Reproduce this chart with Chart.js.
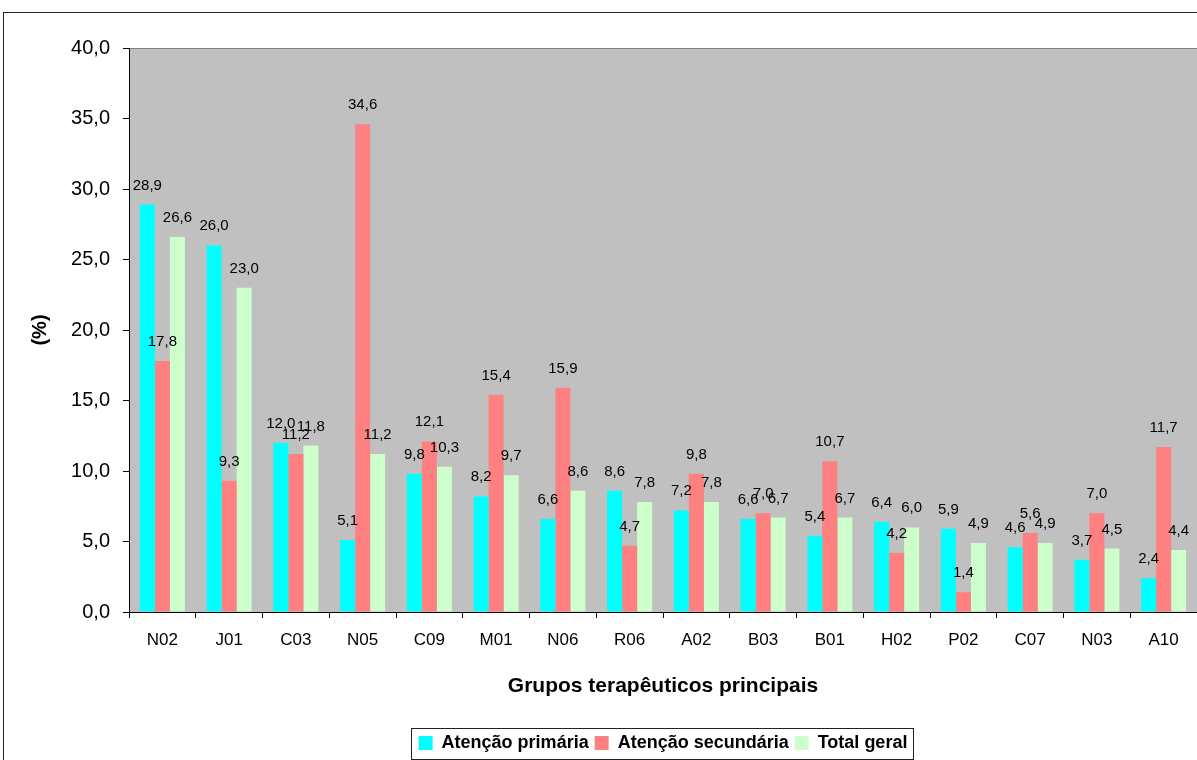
<!DOCTYPE html>
<html>
<head>
<meta charset="utf-8">
<script src="https://cdn.jsdelivr.net/npm/chart.js@4"></script>
<style>
  body { margin:0; background:#fff; }
  #wrap { position:relative; width:1197px; height:760px; overflow:hidden; }
  #frame { position:absolute; left:3px; top:12px; width:1210px; height:760px; border:1px solid #222; }
  canvas { position:absolute; left:0; top:0; }
</style>
</head>
<body>
<div id="wrap">
  <div id="frame"></div>
  <canvas id="chart" width="1197" height="760"></canvas>
</div>
<script>
const categories = ["N02","J01","C03","N05","C09","M01","N06","R06","A02","B03","B01","H02","P02","C07","N03","A10"];
const primaria   = [28.9, 26.0, 12.0, 5.1, 9.8, 8.2, 6.6, 8.6, 7.2, 6.6, 5.4, 6.4, 5.9, 4.6, 3.7, 2.4];
const secundaria = [17.8, 9.3, 11.2, 34.6, 12.1, 15.4, 15.9, 4.7, 9.8, 7.0, 10.7, 4.2, 1.4, 5.6, 7.0, 11.7];
const totalGeral = [26.6, 23.0, 11.8, 11.2, 10.3, 9.7, 8.6, 7.8, 7.8, 6.7, 6.7, 6.0, 4.9, 4.9, 4.5, 4.4];

const fmt = v => v.toFixed(1).replace(".", ",");
const FONT = "Arial, 'Liberation Sans', sans-serif";

/* ---------- plot background ---------- */
const plotBg = {
    id: "plotBg",
    beforeDraw(c) {
        const a = c.chartArea, ctx = c.ctx;
        ctx.save();
        ctx.fillStyle = "#c0c0c0";
        ctx.fillRect(a.left, a.top, a.right - a.left, a.bottom - a.top);
        ctx.strokeStyle = "#808080";
        ctx.lineWidth = 1;
        ctx.beginPath();
        ctx.moveTo(a.left, a.top + 0.5);
        ctx.lineTo(a.right, a.top + 0.5);
        ctx.stroke();
        ctx.restore();
    }
};

/* ---------- value labels ---------- */
const valueLabels = {
    id: "valueLabels",
    afterDatasetsDraw(c) {
        const ctx = c.ctx;
        ctx.save();
        ctx.font = "15px " + FONT;
        ctx.fillStyle = "#000";
        ctx.textAlign = "center";
        ctx.textBaseline = "alphabetic";
        c.data.datasets.forEach((ds, i) => {
            c.getDatasetMeta(i).data.forEach((bar, j) => {
                ctx.fillText(fmt(ds.data[j]), bar.x, bar.y - 15);
            });
        });
        ctx.restore();
    }
};

/* ---------- legend border ---------- */
const legendBox = {
    id: "legendBox",
    afterDraw(c) {
        const boxes = c.legend.legendHitBoxes;
        if (!boxes || !boxes.length) return;
        let l = Infinity, r = -Infinity, t = Infinity, b = -Infinity;
        boxes.forEach(h => {
            l = Math.min(l, h.left); r = Math.max(r, h.left + h.width);
            t = Math.min(t, h.top); b = Math.max(b, h.top + h.height);
        });
        const ctx = c.ctx;
        ctx.save();
        ctx.strokeStyle = "#222";
        ctx.lineWidth = 1;
        const x0 = Math.round(l - 8), y0 = Math.round(t - 6);
        ctx.strokeRect(x0 + 0.5, y0 + 0.5, Math.round(r + 6) - x0, Math.round(b + 7) - y0);
        ctx.restore();
    }
};

new Chart(document.getElementById("chart"), {
    type: "bar",
    data: {
        labels: categories,
        datasets: [
            {label: "Atenção primária", data: primaria, backgroundColor: "#00ffff"},
            {label: "Atenção secundária", data: secundaria, backgroundColor: "#ff8080"},
            {label: "Total geral", data: totalGeral, backgroundColor: "#ccffcc"}
        ]
    },
    options: {
        responsive: false,
        animation: false,
        layout: {padding: {left: 0, right: 0, top: 48, bottom: -2}},
        datasets: {bar: {categoryPercentage: 0.675, barPercentage: 1.0}},
        scales: {
            x: {
                offset: true,
                grid: {offset: true, drawOnChartArea: false, color: "#000", tickLength: 6},
                border: {color: "#000"},
                ticks: {color: "#000", font: {family: FONT, size: 17}, padding: 12},
                title: {display: true, text: "Grupos terapêuticos principais", color: "#000",
                        font: {family: FONT, size: 21, weight: "bold"}, padding: {top: 0, bottom: 29}},
                afterFit(s) { s.height = 116; }
            },
            y: {
                min: 0, max: 40,
                ticks: {stepSize: 5, color: "#000", padding: 13,
                        font: {family: FONT, size: 20},
                        callback: v => fmt(v)},
                grid: {drawOnChartArea: false, color: "#000", tickLength: 6},
                border: {color: "#000"},
                title: {display: true, text: "(%)", color: "#000",
                        font: {family: FONT, size: 20, weight: "bold"}, padding: {top: 28, bottom: 0}},
                afterFit(s) { s.width = 129; }
            }
        },
        plugins: {
            legend: {
                position: "bottom",
                fullSize: false,
                labels: {
                    color: "#000",
                    font: {family: FONT, size: 18, weight: "bold"},
                    boxWidth: 14, boxHeight: 14, padding: 6
                }
            },
            tooltip: {enabled: false}
        }
    },
    plugins: [plotBg, valueLabels, legendBox]
});
</script>
</body>
</html>
